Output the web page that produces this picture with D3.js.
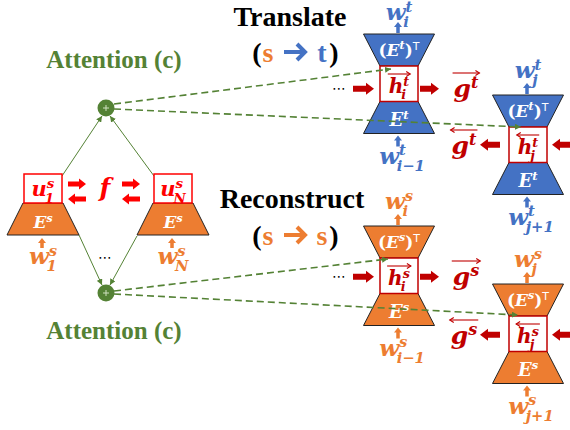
<!DOCTYPE html>
<html><head><meta charset="utf-8">
<script src="https://cdn.jsdelivr.net/npm/d3@7"></script>
<style>body{margin:0;background:#fff}</style>
</head><body>
<svg id="c" width="570" height="430"></svg>
<script>
// ---- content ----
const titles = ["Translate", "Reconstruct"];
const dirFrom = ["s", "s"];
const dirTo = ["t", "s"];
const attentionLabels = ["Attention (c)", "Attention (c)"];
const encoderSubs = ["1", "N"];
const decoderCols = ["i", "j"];
const decoderInputSubs = ["i\u22121", "j+1"];
const rowLangs = ["t", "s"];
const funcLabel = "f";

// ---- styling ----
const BLUE = "#4472C4", ORANGE = "#ED7D31", DRED = "#C00000", RED = "#FF0000", GREEN = "#548235";
const MATH = "'DejaVu Serif', serif";
const SERIF = "'Liberation Serif', 'Times New Roman', serif";
const langColor = { t: BLUE, s: ORANGE };

const svg = d3.select("#c");
const defs = svg.append("defs");
defs.append("marker").attr("id", "ga").attr("viewBox", "0 0 6 6").attr("refX", 6).attr("refY", 3)
  .attr("markerWidth", 6).attr("markerHeight", 6).attr("markerUnits", "userSpaceOnUse").attr("orient", "auto")
  .append("path").attr("d", "M0,0 L6,3 L0,6 z").attr("fill", GREEN);

const line = d3.line();

function blockArrow(g, x1, y1, x2, y2, shaft, head, headLen, color) {
  const dx = x2 - x1, dy = y2 - y1, L = Math.hypot(dx, dy);
  const ux = dx / L, uy = dy / L, px = -uy, py = ux;
  const bx = x2 - ux * headLen, by = y2 - uy * headLen;
  const pts = [
    [x1 + px * shaft / 2, y1 + py * shaft / 2],
    [bx + px * shaft / 2, by + py * shaft / 2],
    [bx + px * head / 2, by + py * head / 2],
    [x2, y2],
    [bx - px * head / 2, by - py * head / 2],
    [bx - px * shaft / 2, by - py * shaft / 2],
    [x1 - px * shaft / 2, y1 - py * shaft / 2]];
  g.append("path").attr("d", line(pts) + "Z").attr("fill", color);
}

function mathLabel(parent, cx, y, o) {
  const g = parent.append("g");
  const s = o.size, ss = s * 0.64;
  const t = (x, yy, str, sz) => g.append("text").attr("x", x).attr("y", yy)
    .attr("font-family", MATH).attr("font-style", "italic").attr("font-weight", "bold")
    .attr("font-size", sz).attr("fill", o.color).text(str);
  const b = t(0, 0, o.base, s);
  const w = b.node().getComputedTextLength();
  let right = w;
  if (o.sup) {
    const e = t(w, -s * 0.36, o.sup, ss);
    right = Math.max(right, w + e.node().getComputedTextLength());
  }
  if (o.sub) {
    const e = t(w - s * 0.1, s * 0.32, o.sub, ss);
    right = Math.max(right, w - s * 0.1 + e.node().getComputedTextLength());
  }
  if (o.arrow) {
    const ay = -s * 0.95, x0 = -1, x1 = right + 1;
    g.append("line").attr("x1", x0).attr("x2", x1).attr("y1", ay).attr("y2", ay)
      .attr("stroke", o.color).attr("stroke-width", 1.1);
    const hx = o.arrow === "r" ? x1 : x0, d = o.arrow === "r" ? -4 : 4;
    g.append("path").attr("d", `M${hx + d},${ay - 2.5} L${hx},${ay} L${hx + d},${ay + 2.5}`)
      .attr("fill", "none").attr("stroke", o.color).attr("stroke-width", 1.1);
  }
  g.attr("transform", `translate(${cx - right / 2},${y})`);
  return g;
}

function trap(g, cx, yTop, yBot, topHalf, botHalf, color) {
  g.append("path").attr("d", line([[cx - topHalf, yTop], [cx + topHalf, yTop], [cx + botHalf, yBot], [cx - botHalf, yBot]]) + "Z")
    .attr("fill", color).attr("stroke", "#222").attr("stroke-width", 1);
}

function dots(g, x, y) {
  g.append("text").attr("x", x).attr("y", y).attr("text-anchor", "middle").attr("font-size", 14)
    .attr("font-family", "'DejaVu Sans', sans-serif").attr("fill", "#000").text("\u22EF");
}

const layer0 = svg.append("g"), layer1 = svg.append("g"), layer2 = svg.append("g");

// ---- attention nodes ----
const circles = [[106, 108], [106, 293]];
const attY = [68, 339];
attentionLabels.forEach((lab, k) => {
  layer2.append("text").attr("x", 114).attr("y", attY[k]).attr("text-anchor", "middle")
    .attr("font-family", SERIF).attr("font-weight", "bold").attr("font-size", 25).attr("fill", GREEN).text(lab);
});

// thin lines encoder -> attention
[[[62, 176], [102, 116]], [[154, 176], [110, 116]], [[79, 235], [102, 285]], [[137, 236], [110, 285]]].forEach(s => {
  layer0.append("path").attr("d", line(s)).attr("stroke", GREEN).attr("stroke-width", 1).attr("fill", "none")
    .attr("marker-end", "url(#ga)");
});

circles.forEach(([x, y]) => {
  layer1.append("circle").attr("cx", x).attr("cy", y).attr("r", 8.5).attr("fill", GREEN);
  layer1.append("path").attr("d", `M${x - 3},${y} H${x + 3} M${x},${y - 3} V${y + 3}`).attr("stroke", "#cfe0c0").attr("stroke-width", 1);
});

// ---- encoders ----
const encCx = [43, 173];
encoderSubs.forEach((sub, k) => {
  const cx = encCx[k];
  trap(layer1, cx, 203, 235, 20, 36, ORANGE);
  layer1.append("rect").attr("x", cx - 19).attr("y", 174).attr("width", 38).attr("height", 29)
    .attr("fill", "#fff").attr("stroke", RED).attr("stroke-width", 1.5);
  mathLabel(layer1, cx, 196, { base: "u", sup: "s", sub: sub, size: 21, color: RED });
  mathLabel(layer1, cx, 228, { base: "E", sup: "s", size: 17, color: "#fff" });
  blockArrow(layer1, cx - 1, 248, cx - 1, 238, 3.5, 8, 5, ORANGE);
  mathLabel(layer1, cx, 264, { base: "w", sup: "s", sub: sub, size: 23, color: ORANGE });
});
// f arrows
[[68, 86], [122, 140]].forEach(([a, b]) => {
  blockArrow(layer1, a, 184, b, 184, 5, 11, 7, RED);
  blockArrow(layer1, b, 199, a, 199, 5, 11, 7, RED);
});
mathLabel(layer1, 105, 196, { base: funcLabel, size: 25, color: RED });
dots(layer1, 105, 262);

// ---- decoder blocks ----
const colCx = [399, 528];
const rowTops = [[34, 95], [226, 284]];
const rowArrowDy = [[5, 0], [1, 1]];
rowLangs.forEach((lang, r) => {
  const color = langColor[lang];
  decoderCols.forEach((col, c) => {
    const cx = colCx[c], yTop = rowTops[r][c];
    const yB1 = yTop + 32, yB2 = yB1 + 35.5, yBot = yB2 + 32;
    trap(layer1, cx, yTop, yB1, 35.5, 19, color);
    trap(layer1, cx, yB2, yBot, 19, 35.5, color);
    layer1.append("rect").attr("x", cx - 19).attr("y", yB1).attr("width", 38).attr("height", yB2 - yB1)
      .attr("fill", "#fff").attr("stroke", DRED).attr("stroke-width", 1.5);
    // (E^l)^T
    const tt = layer1.append("text").attr("x", cx).attr("y", yTop + 22).attr("text-anchor", "middle")
      .attr("font-family", MATH).attr("font-weight", "bold").attr("font-size", 17).attr("fill", "#fff");
    tt.append("tspan").text("(");
    tt.append("tspan").attr("font-style", "italic").text("E");
    tt.append("tspan").attr("font-style", "italic").attr("font-size", 11).attr("dy", -7).text(lang);
    tt.append("tspan").attr("dy", 7).text(")");
    tt.append("tspan").attr("font-family", "'DejaVu Sans', sans-serif").attr("font-weight", "normal")
      .attr("font-size", 11).attr("dy", -6).text("T");
    mathLabel(layer1, cx, yB2 + 24, { base: "E", sup: lang, size: 18, color: "#fff" });
    mathLabel(layer1, cx, yB1 + 27, { base: "h", sup: lang, sub: col, size: 20, color: DRED, arrow: c === 0 ? "r" : "l" });
    // output word above
    blockArrow(layer1, cx - 1, yTop - 1, cx - 1, yTop - 12, 3.5, 8, 5, color);
    mathLabel(layer1, cx, Math.max(yTop - 17, 20), { base: "w", sup: lang, sub: col, size: 23, color: color });
    // input word below
    blockArrow(layer1, cx - 1, yBot + 13, cx - 1, yBot + 2, 3.5, 8, 5, color);
    mathLabel(layer1, cx + 3, yBot + 30, { base: "w", sup: lang, sub: decoderInputSubs[c], size: 23, color: color });
    // recurrent arrows
    const ay = (yB1 + yB2) / 2 + rowArrowDy[r][c];
    if (c === 0) {
      dots(layer1, cx - 60, ay + 4);
      blockArrow(layer1, cx - 46, ay, cx - 25, ay, 6, 12, 8, DRED);
      blockArrow(layer1, cx + 21, ay, cx + 40, ay, 6, 12, 8, DRED);
      mathLabel(layer1, cx + 67, ay + 8, { base: "g", sup: lang, size: 25, color: DRED, arrow: "r" });
    } else {
      blockArrow(layer1, 572, ay, cx + 24, ay, 6, 12, 8, DRED);
      blockArrow(layer1, cx - 28, ay, cx - 48, ay, 6, 12, 8, DRED);
      mathLabel(layer1, cx - 64, ay + 9, { base: "g", sup: lang, size: 25, color: DRED, arrow: "l" });
    }
  });
});

// dashed attention lines
[[[114, 104], [391, 69]], [[114, 109], [521, 127]], [[114, 291], [388, 259]], [[114, 294], [518, 315]]].forEach(s => {
  layer2.append("path").attr("d", line(s)).attr("stroke", GREEN).attr("stroke-width", 1.6)
    .attr("stroke-dasharray", "7,4").attr("fill", "none").attr("marker-end", "url(#ga)");
});

// ---- titles ----
const titleY = [26, 208], dirY = [62, 245], titleCx = [290, 292];
titles.forEach((t, k) => {
  layer2.append("text").attr("x", titleCx[k]).attr("y", titleY[k]).attr("text-anchor", "middle")
    .attr("font-family", SERIF).attr("font-weight", "bold").attr("font-size", 28).attr("fill", "#000").text(t);
  const yy = dirY[k];
  const tx = (x, str, col) => layer2.append("text").attr("x", x).attr("y", yy).attr("text-anchor", "middle")
    .attr("font-family", SERIF).attr("font-weight", "bold").attr("font-size", 28).attr("fill", col).text(str);
  tx(257, "(", "#000");
  tx(268, dirFrom[k], ORANGE);
  tx(322, dirTo[k], langColor[dirTo[k]]);
  tx(334, ")", "#000");
  const ac = langColor[dirTo[k]], ym = yy - 10;
  layer2.append("path").attr("d", `M284,${ym} H305 M297,${ym - 8} L305,${ym} L297,${ym + 8}`)
    .attr("fill", "none").attr("stroke", ac).attr("stroke-width", 4).attr("stroke-linejoin", "miter");
});
</script>
</body></html>
